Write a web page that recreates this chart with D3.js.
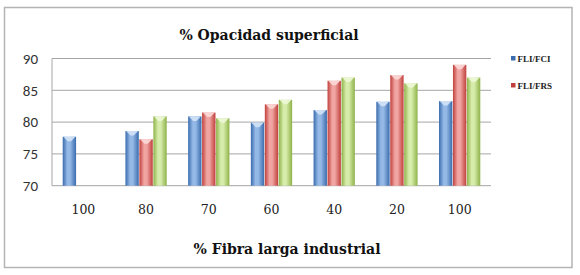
<!DOCTYPE html>
<html>
<head>
<meta charset="utf-8">
<script src="https://cdn.jsdelivr.net/npm/d3@7"></script>
<style>
  body { margin: 0; background: #fff; }
</style>
</head>
<body>
<div id="root"></div>
<script>
var categories = ['100', '80', '70', '60', '40', '20', '100'];
var seriesNames = ['FLI/FCI', 'FLI/FRS', 'FLI/FRG'];
var fciValues = [77.7, 78.6, 80.9, 79.9, 81.9, 83.2, 83.3];
var frsValues = [null, 77.3, 81.5, 82.8, 86.5, 87.4, 89.0];
var frgValues = [null, 80.9, 80.6, 83.5, 87.0, 86.1, 87.0];
var yTicks = [70, 75, 80, 85, 90];
var legendNames = ['FLI/FCI', 'FLI/FRS'];

var colors = {
  'FLI/FCI': { dark: '#3a6cae', light: '#95b9e6', cap: '#cfe0f6' },
  'FLI/FRS': { dark: '#c0403c', light: '#f0a5a2', cap: '#fad6d4' },
  'FLI/FRG': { dark: '#8fb24a', light: '#d6ecaa', cap: '#ecf7d4' }
};

var series = [fciValues, frsValues, frgValues];
var rows = [];
categories.forEach((c, i) => {
  seriesNames.forEach((s, j) => {
    if (series[j][i] != null) rows.push({ idx: i, name: s, value: series[j][i] });
  });
});

var W = 580, H = 275;
var plot = { left: 52, right: 491, top: 58.5, bottom: 185.7 };

var svg = d3.select('#root')
  .append('svg')
    .attr('width', W)
    .attr('height', H);

var defs = svg.append('defs');
seriesNames.forEach((s, j) => {
  var g = defs.append('linearGradient')
    .attr('id', 'grad' + j)
    .attr('x1', '0%').attr('x2', '100%').attr('y1', '0%').attr('y2', '0%');
  g.append('stop').attr('offset', '0%').attr('stop-color', colors[s].dark);
  g.append('stop').attr('offset', '35%').attr('stop-color', colors[s].light);
  g.append('stop').attr('offset', '55%').attr('stop-color', colors[s].light);
  g.append('stop').attr('offset', '100%').attr('stop-color', colors[s].dark);
});

// outer frame
svg.append('rect')
  .attr('x', 4.5).attr('y', 7.5)
  .attr('width', 567.5).attr('height', 260)
  .attr('fill', '#fff')
  .attr('stroke', '#b4b4b4')
  .attr('stroke-width', 1.5);

var x0 = d3.scaleBand()
  .domain(d3.range(categories.length))
  .range([plot.left, plot.right])
  .paddingInner(0)
  .paddingOuter(0);

var x1 = d3.scaleBand()
  .domain(seriesNames)
  .range([x0.bandwidth() * 0.166, x0.bandwidth() * 0.834])
  .padding(0);

var y = d3.scaleLinear()
  .domain([70, 90])
  .range([plot.bottom, plot.top]);

// gridlines
svg.append('g')
  .selectAll('line')
  .data(yTicks)
  .enter()
  .append('line')
    .attr('x1', plot.left)
    .attr('x2', plot.right)
    .attr('y1', d => y(d))
    .attr('y2', d => y(d))
    .attr('stroke', '#a6a6a6')
    .attr('stroke-width', 1);

svg.append('line')
  .attr('x1', plot.left).attr('x2', plot.left)
  .attr('y1', plot.top).attr('y2', plot.bottom)
  .attr('stroke', '#a6a6a6');

// y axis labels
var yAxis = d3.axisLeft(y).tickValues(yTicks).tickSize(0).tickPadding(14);
var yg = svg.append('g')
  .attr('transform', 'translate(' + plot.left + ',0)')
  .call(yAxis);
yg.select('.domain').remove();
yg.selectAll('text')
  .attr('font-family', 'Carlito, "Open Sans", sans-serif')
  .attr('font-size', 15)
  .attr('fill', '#333');

// bars
var bars = svg.append('g')
  .selectAll('g.bar')
  .data(rows)
  .enter()
  .append('g')
    .attr('transform', d => 'translate(' + (x0(d.idx) + x1(d.name)) + ',0)');

bars.append('rect')
  .attr('x', 0.3)
  .attr('width', x1.bandwidth() - 0.6)
  .attr('y', d => y(d.value))
  .attr('height', d => y(70) - y(d.value))
  .attr('fill', d => 'url(#grad' + seriesNames.indexOf(d.name) + ')');

bars.append('path')
  .attr('d', d => {
    var w = x1.bandwidth();
    var t = y(d.value);
    return 'M1,' + t + ' L' + (w - 1) + ',' + t + ' L' + (w * 0.62) + ',' + (t + 4.5) +
      ' L' + (w * 0.38) + ',' + (t + 4.5) + ' Z';
  })
  .attr('fill', d => colors[d.name].cap)
  .attr('opacity', 0.95);

// x axis labels
var xAxis = d3.axisBottom(x0).tickSize(0).tickPadding(0)
  .tickFormat(i => categories[i]);
var xg = svg.append('g')
  .attr('transform', 'translate(0,' + 205 + ')')
  .call(xAxis);
xg.select('.domain').remove();
xg.selectAll('text')
  .attr('font-family', '"DejaVu Serif", serif')
  .attr('font-size', 12.5)
  .attr('fill', '#222');

// titles
svg.append('text')
  .attr('x', 269)
  .attr('y', 40)
  .attr('text-anchor', 'middle')
  .attr('font-family', '"DejaVu Serif", serif')
  .attr('font-weight', 'bold')
  .attr('font-size', 14)
  .attr('fill', '#111')
  .text('% Opacidad superficial');

svg.append('text')
  .attr('x', 287)
  .attr('y', 254)
  .attr('text-anchor', 'middle')
  .attr('font-family', '"DejaVu Serif", serif')
  .attr('font-weight', 'bold')
  .attr('font-size', 14)
  .attr('fill', '#111')
  .text('% Fibra larga industrial');

// legend
var legend = svg.append('g')
  .selectAll('g')
  .data(legendNames)
  .enter()
  .append('g')
    .attr('transform', (d, i) => 'translate(511,' + (59 + i * 27) + ')');

legend.append('rect')
  .attr('x', 0).attr('y', -3)
  .attr('width', 4.5).attr('height', 4.5)
  .attr('fill', d => colors[d].dark);

legend.append('text')
  .attr('x', 6.5)
  .attr('y', 3)
  .attr('font-family', '"Liberation Serif", serif')
  .attr('font-weight', 'bold')
  .attr('font-size', 9)
  .attr('fill', '#222')
  .text(d => d);
</script>
</body>
</html>
